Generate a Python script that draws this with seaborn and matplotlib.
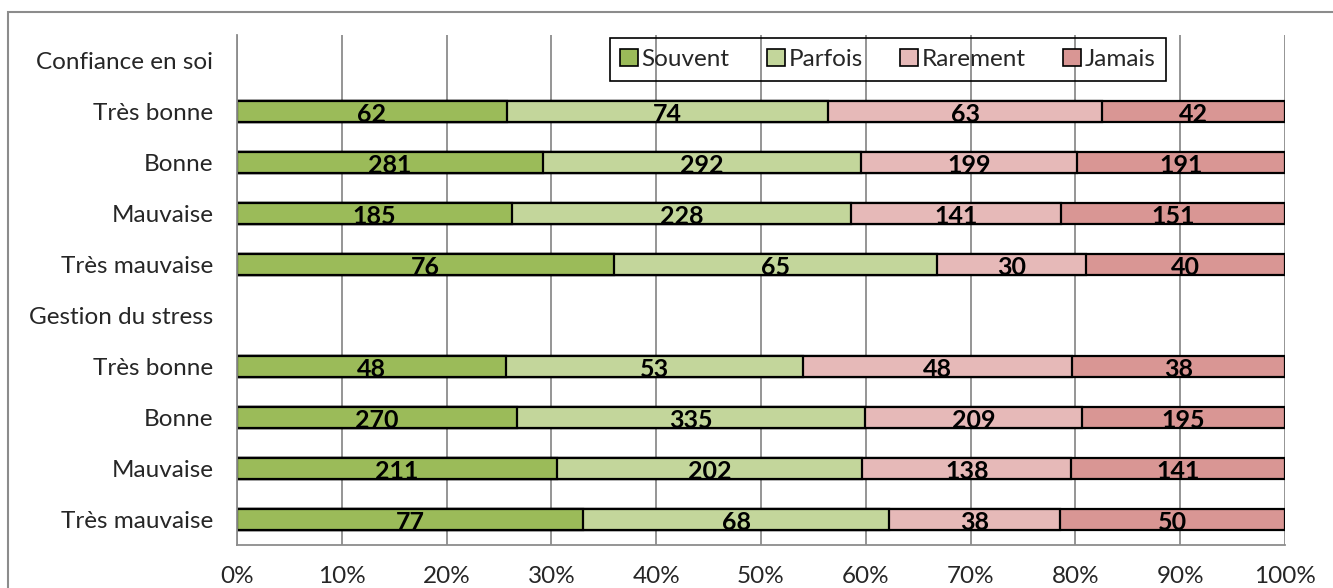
import numpy as np
import pandas as pd
import matplotlib
matplotlib.use("Agg")
import matplotlib.pyplot as plt
import matplotlib.patches as mpatches
from matplotlib.ticker import FixedLocator, PercentFormatter
import seaborn as sns

# Row layout: two groups, each with a header row (no bars) and four levels
row_keys = ["cs_head", "cs_tb", "cs_b", "cs_m", "cs_tm",
            "gs_head", "gs_tb", "gs_b", "gs_m", "gs_tm"]
row_labels = ["Confiance en soi", "Très bonne", "Bonne", "Mauvaise", "Très mauvaise",
              "Gestion du stress", "Très bonne", "Bonne", "Mauvaise", "Très mauvaise"]
bar_keys = ["cs_tb", "cs_b", "cs_m", "cs_tm", "gs_tb", "gs_b", "gs_m", "gs_tm"]

series = ["Souvent", "Parfois", "Rarement", "Jamais"]
souvent = [62, 281, 185, 76, 48, 270, 211, 77]
parfois = [74, 292, 228, 65, 53, 335, 202, 68]
rarement = [63, 199, 141, 30, 48, 209, 138, 38]
jamais = [42, 191, 151, 40, 38, 195, 141, 50]
colors = ["#9BBB59", "#C3D69B", "#E6B9B8", "#D99694"]

counts = np.array([souvent, parfois, rarement, jamais], dtype=float)
shares = counts / counts.sum(axis=0) * 100
cum = np.cumsum(shares, axis=0)

sns.set_style("white")
plt.rcParams["font.family"] = ["Lato", "DejaVu Sans"]

FS = 17.5
BAR_W = 0.43

fig = plt.figure(figsize=(13.33, 5.88), dpi=100)
ax = fig.add_axes([237 / 1333, 1 - 545 / 588, 1048 / 1333, 510 / 588])

# Stacked bars: draw cumulative widths from the outermost series inward
for k in range(len(series) - 1, -1, -1):
    df = pd.DataFrame({"row": bar_keys, "value": cum[k]})
    sns.barplot(data=df, x="value", y="row", order=row_keys, color=colors[k],
                width=BAR_W, edgecolor="black", linewidth=1.6, saturation=1,
                ax=ax, zorder=2)

# Value labels at the centre of each segment, sitting on the bar's lower edge
pos = {k: i for i, k in enumerate(row_keys)}
for k in range(len(series)):
    for j, key in enumerate(bar_keys):
        left = cum[k, j] - shares[k, j]
        ax.text(left + shares[k, j] / 2, pos[key] + BAR_W / 2 - 0.015,
                f"{int(counts[k, j])}", ha="center", va="baseline",
                fontsize=FS + 0.5, fontweight="bold", color="black", zorder=4)

ax.set_xlim(0, 100)
ax.set_ylim(len(row_keys) - 0.5, -0.5)
ax.set_xlabel("")
ax.set_ylabel("")

ax.xaxis.set_major_locator(FixedLocator(np.arange(0, 101, 10)))
ax.xaxis.set_major_formatter(PercentFormatter(decimals=0))
ax.set_yticks(range(len(row_keys)))
ax.set_yticklabels(row_labels)
ax.yaxis.set_minor_locator(FixedLocator(np.arange(-0.5, len(row_keys), 1)))

ax.grid(axis="x", color="#8c8c8c", linewidth=1.3, zorder=0)
ax.set_axisbelow(True)
for side in ["top", "right"]:
    ax.spines[side].set_visible(False)
for side in ["left", "bottom"]:
    ax.spines[side].set_color("#8c8c8c")
    ax.spines[side].set_linewidth(1.3)

ax.tick_params(axis="y", which="major", length=0, pad=17, labelsize=FS)
ax.tick_params(axis="y", which="minor", length=5.5, width=1.3, color="#8c8c8c",
               direction="out")
ax.tick_params(axis="x", which="major", length=4, width=1.3, color="#8c8c8c",
               pad=11, labelsize=FS, direction="out")

handles = [mpatches.Patch(facecolor=c, edgecolor="black", linewidth=1.2, label=s)
           for s, c in zip(series, colors)]
leg = ax.legend(handles=handles, ncol=4, loc="upper center",
                bbox_to_anchor=(0.621, 1.0), frameon=True, fancybox=False,
                edgecolor="black", facecolor="none", fontsize=FS,
                handlelength=0.72, handleheight=0.72, handletextpad=0.15,
                columnspacing=1.55, borderpad=0.45, borderaxespad=0.12)
leg.get_frame().set_linewidth(1.2)
leg.get_frame().set_alpha(None)
leg.get_frame().set_facecolor("none")

# Chart-area border running off the right and bottom edges
border = mpatches.Rectangle((8 / 1333, -0.2), 1.3, (1 - 12 / 588) + 0.2,
                            transform=fig.transFigure, fill=False,
                            edgecolor="#8c8c8c", linewidth=1.5, clip_on=False)
fig.patches.append(border)

fig.savefig("out.png", dpi=100)
